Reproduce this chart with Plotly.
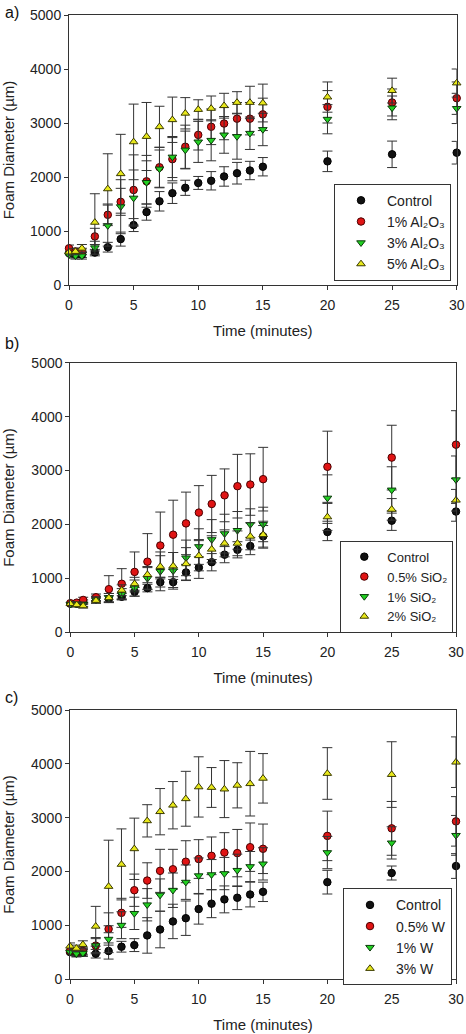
import plotly.graph_objects as go

time = [0, 0.5, 1, 2, 3, 4, 5, 6, 7, 8, 9, 10, 11, 12, 13, 14, 15, 20, 25, 30]
x_ticks = [0, 5, 10, 15, 20, 25, 30]
y_ticks = [0, 1000, 2000, 3000, 4000, 5000]

# ---- Panel a: Al2O3 ----
a_names = ["Control", "1% Al₂O₃", "3% Al₂O₃", "5% Al₂O₃"]
a_ctrl = [590, 560, 560, 600, 700, 850, 1110, 1350, 1550, 1700, 1800, 1890, 1930, 2010, 2070, 2120, 2190, 2290, 2420, 2450]
a_ctrl_err = [60, 50, 50, 60, 90, 130, 120, 150, 180, 190, 140, 120, 170, 180, 200, 170, 170, 190, 245, 210]
a_1 = [680, 620, 620, 900, 1300, 1540, 1760, 1920, 2180, 2330, 2560, 2780, 2930, 2990, 3080, 3080, 3160, 3300, 3380, 3460]
a_1_err = [60, 60, 60, 150, 200, 250, 650, 480, 370, 400, 400, 280, 330, 300, 300, 300, 300, 300, 250, 300]
a_3 = [560, 540, 540, 690, 1100, 1450, 1610, 1900, 2150, 2370, 2500, 2650, 2680, 2780, 2750, 2810, 2880, 3070, 3280, 3270]
a_3_err = [60, 60, 60, 120, 380, 500, 520, 400, 350, 380, 350, 380, 380, 340, 420, 300, 300, 270, 220, 280]
a_5 = [610, 620, 680, 1160, 1780, 2060, 2650, 2750, 2930, 3060, 3180, 3250, 3270, 3320, 3380, 3380, 3370, 3480, 3600, 3740]
a_5_err = [60, 60, 70, 530, 650, 730, 700, 630, 380, 420, 290, 180, 230, 230, 200, 300, 350, 280, 230, 260]

# ---- Panel b: SiO2 ----
b_names = ["Control", "0.5% SiO₂", "1% SiO₂", "2% SiO₂"]
b_ctrl = [530, 530, 560, 620, 620, 660, 750, 820, 930, 930, 1110, 1200, 1300, 1440, 1530, 1600, 1780, 1860, 2070, 2240]
b_ctrl_err = [40, 40, 40, 50, 60, 60, 80, 70, 90, 100, 150, 200, 160, 150, 150, 160, 200, 160, 180, 180]
b_05 = [540, 550, 600, 650, 800, 900, 1120, 1310, 1610, 1810, 2020, 2220, 2380, 2540, 2710, 2740, 2840, 3070, 3240, 3480]
b_05_err = [40, 40, 50, 60, 250, 280, 370, 520, 620, 640, 580, 500, 530, 490, 590, 570, 590, 660, 600, 630]
b_1 = [520, 520, 520, 600, 640, 710, 820, 1000, 1130, 1140, 1380, 1590, 1720, 1830, 1890, 2000, 2000, 2490, 2640, 2830]
b_1_err = [40, 40, 40, 60, 80, 100, 150, 200, 360, 340, 330, 330, 370, 360, 350, 290, 320, 430, 430, 440]
b_2 = [530, 510, 490, 590, 640, 780, 900, 1070, 1220, 1230, 1270, 1420, 1540, 1650, 1650, 1780, 1810, 2140, 2280, 2450]
b_2_err = [40, 40, 40, 50, 80, 100, 120, 150, 200, 250, 300, 280, 250, 250, 230, 250, 250, 250, 200, 200]

# ---- Panel c: W ----
c_names = ["Control", "0.5% W", "1% W", "3% W"]
c_ctrl = [500, 480, 490, 470, 520, 600, 630, 810, 920, 1070, 1130, 1300, 1400, 1480, 1510, 1570, 1620, 1800, 1970, 2100]
c_ctrl_err = [60, 60, 60, 80, 150, 100, 120, 330, 340, 320, 320, 280, 260, 250, 220, 230, 180, 220, 130, 230]
c_05 = [520, 500, 520, 620, 930, 1230, 1650, 1830, 2010, 2040, 2180, 2230, 2290, 2350, 2340, 2450, 2420, 2660, 2800, 2930]
c_05_err = [60, 60, 60, 150, 300, 270, 300, 330, 400, 370, 390, 360, 350, 370, 440, 450, 460, 460, 500, 460]
c_1 = [500, 470, 480, 620, 740, 1000, 1220, 1380, 1560, 1650, 1800, 1920, 1940, 1960, 2020, 2090, 2140, 2350, 2530, 2670]
c_1_err = [60, 60, 60, 130, 250, 250, 300, 300, 300, 320, 320, 330, 280, 300, 300, 280, 300, 300, 300, 370]
c_3 = [610, 570, 640, 980, 1720, 2130, 2420, 2940, 3110, 3230, 3350, 3570, 3560, 3530, 3600, 3630, 3730, 3820, 3800, 4030]
c_3_err = [60, 60, 70, 370, 860, 660, 570, 300, 430, 440, 510, 560, 370, 530, 420, 600, 460, 480, 610, 470]

panel_labels = ["a)", "b)", "c)"]

FONT = "Arial, Liberation Sans, DejaVu Sans, sans-serif"
AX_COL = "#333333"
styles = [
    dict(symbol="circle", color="#111111", line="#000000"),
    dict(symbol="circle", color="#e01414", line="#4a0000"),
    dict(symbol="triangle-down", color="#22d022", line="#0a3a0a"),
    dict(symbol="triangle-up", color="#e8e81a", line="#3a3a00"),
]

panels = [
    (a_names, [a_ctrl, a_1, a_3, a_5], [a_ctrl_err, a_1_err, a_3_err, a_5_err]),
    (b_names, [b_ctrl, b_05, b_1, b_2], [b_ctrl_err, b_05_err, b_1_err, b_2_err]),
    (c_names, [c_ctrl, c_05, c_1, c_3], [c_ctrl_err, c_05_err, c_1_err, c_3_err]),
]

W, H = 466, 1034
# pixel geometry of plotting areas: (left, right, top, bottom)
boxes = [(69, 456.7, 15, 285), (70.3, 456, 362.7, 632.3), (70, 456, 710, 979)]
# legend: right edge x, top y, font size, itemwidth
legend_pos = [(451, 183.7, 14, 42), (453.3, 540.7, 13, 36), (452, 888.3, 14, 42)]
label_pos = [(3, 12.5), (3, 343), (3, 697)]

fig = go.Figure()
layout = dict(
    width=W, height=H, margin=dict(l=0, r=0, t=0, b=0, autoexpand=False),
    paper_bgcolor="white", plot_bgcolor="white",
    font=dict(family=FONT, color="#222222"),
    annotations=[],
)

for i, (names, series, errs) in enumerate(panels):
    sfx = "" if i == 0 else str(i + 1)
    leg = "legend" if i == 0 else "legend" + str(i + 1)
    for j in range(4):
        st = styles[j]
        fig.add_trace(go.Scatter(
            x=time, y=series[j], mode="markers", name=names[j],
            xaxis="x" + sfx, yaxis="y" + sfx, legend=leg,
            cliponaxis=False,
            marker=dict(symbol=st["symbol"], size=7.5, color=st["color"],
                        line=dict(color=st["line"], width=1)),
            error_y=dict(type="data", array=errs[j], visible=True,
                         color="#333333", thickness=1, width=5),
        ))
    l, r, t, b = boxes[i]
    xd = [l / W, r / W]
    yd = [1 - b / H, 1 - t / H]
    layout["xaxis" + sfx] = dict(
        domain=xd, range=[0, 30], anchor="y" + sfx, automargin=False,
        tickvals=x_ticks, ticks="outside", ticklen=4, tickcolor=AX_COL,
        ticklabelstandoff=3,
        showline=True, linecolor=AX_COL, linewidth=1, mirror=True,
        showgrid=False, zeroline=False,
        tickfont=dict(size=14, family=FONT, color="#222"),
        title=dict(text="Time (minutes)", font=dict(size=15, family=FONT, color="#222"), standoff=13),
    )
    layout["yaxis" + sfx] = dict(
        domain=yd, range=[0, 5000], anchor="x" + sfx, automargin=False,
        tickvals=y_ticks, ticks="outside", ticklen=4, tickcolor=AX_COL,
        showline=True, linecolor=AX_COL, linewidth=1, mirror=True,
        showgrid=False, zeroline=False,
        tickfont=dict(size=14, family=FONT, color="#222"),
        title=dict(text="Foam Diameter (µm)", font=dict(size=15, family=FONT, color="#222"), standoff=14),
    )
    lx, ly, lf, iw = legend_pos[i]
    layout[leg] = dict(
        x=lx / W, y=1 - ly / H, xanchor="right", yanchor="top",
        bgcolor="white", bordercolor=AX_COL, borderwidth=1,
        font=dict(size=lf, family=FONT, color="#222"),
        itemsizing="trace", itemwidth=iw,
    )
    px, py = label_pos[i]
    layout["annotations"].append(dict(
        text=panel_labels[i], x=px / W, y=1 - py / H, xref="paper", yref="paper",
        xanchor="left", yanchor="middle", showarrow=False,
        font=dict(size=16, family=FONT, color="#111"),
    ))

fig.update_layout(**layout)
fig.write_html("out.html", config={"displayModeBar": False},
               post_script="document.body.style.margin='0';")
